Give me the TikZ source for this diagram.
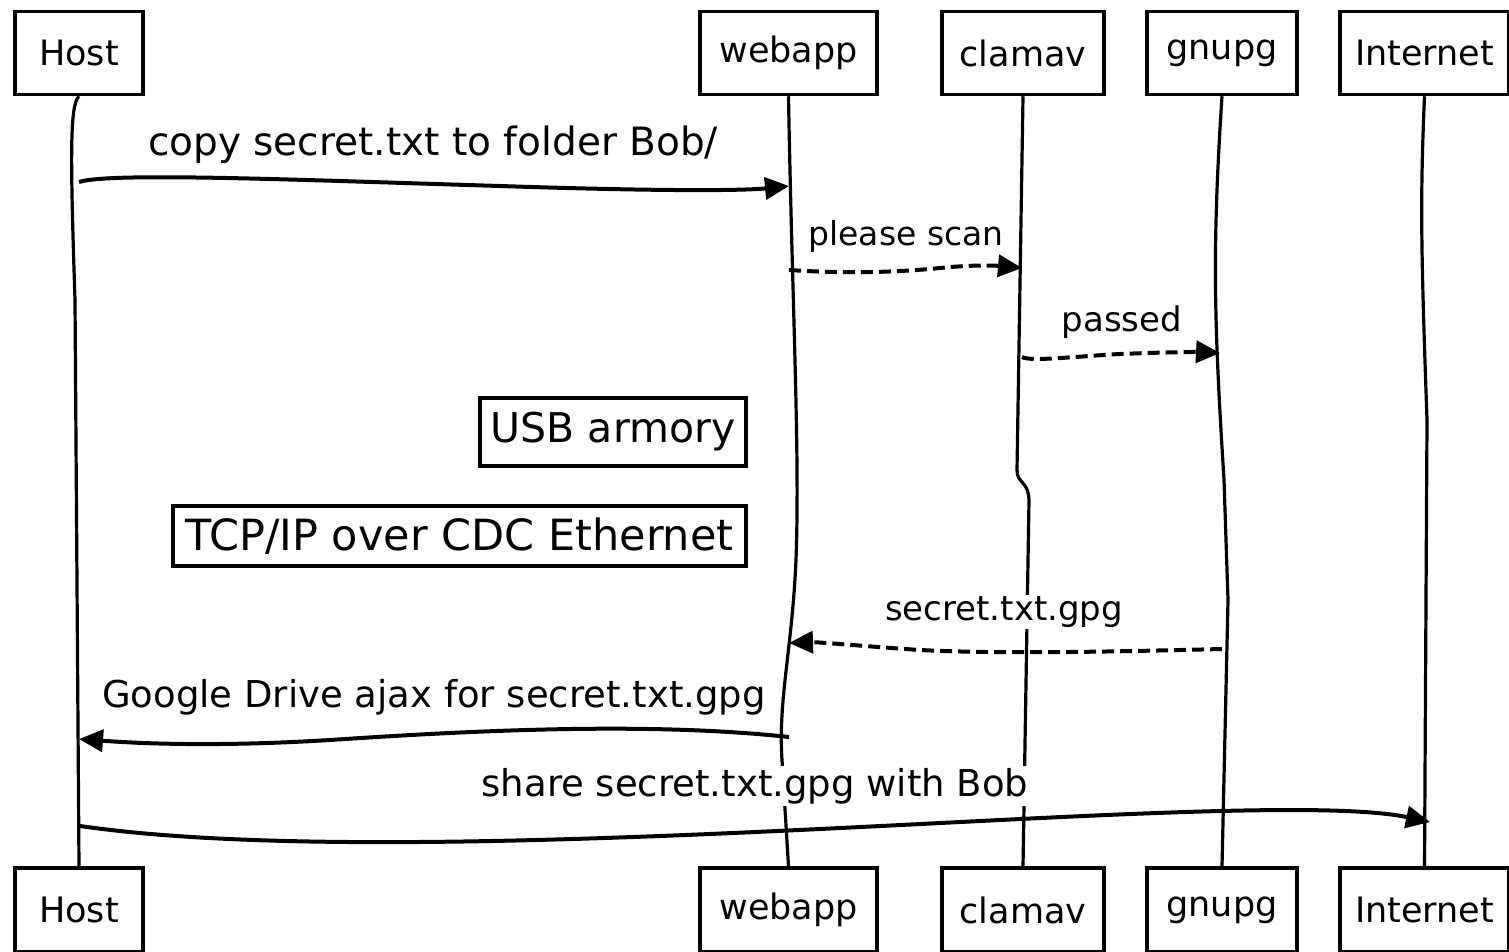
\documentclass[tikz,border=0pt]{standalone}
\usepackage{fontspec}
\setmainfont{DejaVu Sans}
\usetikzlibrary{arrows.meta}
\newcommand{\fsz}[1]{\fontsize{#1}{#1}\selectfont}
\begin{document}
\begin{tikzpicture}[x=1pt,y=-1pt,
 actor/.style={draw,line width=3.5pt,minimum height=83pt,inner sep=0pt,font=\fsz{35}},
 life/.style={line width=3.2pt},
 msg/.style={line width=4pt,-{Triangle[length=24pt,width=22pt]}},
 reply/.style={msg,dash pattern=on 12pt off 6pt},
 lbl/.style={fill=white,inner sep=2pt,font=\fsz{38}},
 note/.style={draw,line width=3.5pt,fill=white,inner sep=0pt,font=\fsz{41}}]
\useasboundingbox (0,0) rectangle (1509,952);
% actors top
\node[actor,minimum width=128pt] (hostT) at (79,53) {Host};
\node[actor,minimum width=177pt] (webT) at (788.5,53) {webapp};
\node[actor,minimum width=162pt] (clamT) at (1023,53) {clamav};
\node[actor,minimum width=150pt] (gnuT) at (1222,53) {gnupg};
\node[actor,minimum width=169pt] (netT) at (1424.5,53) {Internet};
% actors bottom
\node[actor,minimum width=128pt,minimum height=84pt] (hostB) at (79,910) {Host};
\node[actor,minimum width=177pt,minimum height=84pt] (webB) at (788.5,910) {webapp};
\node[actor,minimum width=162pt,minimum height=84pt] (clamB) at (1023,910) {clamav};
\node[actor,minimum width=150pt,minimum height=84pt] (gnuB) at (1222,910) {gnupg};
\node[actor,minimum width=169pt,minimum height=84pt] (netB) at (1424.5,910) {Internet};
% lifelines
\draw[life] (hostT.south) .. controls (70,105) and (70,150) .. (75,300) -- (hostB.north);
\draw[life] (webT.south) .. controls (792,300) and (800,450) .. (796,560) .. controls (792,650) and (778,700) .. (782,760) -- (webB.north);
\draw[life] (clamT.south) -- (1017,470) .. controls (1017,484) and (1028,480) .. (1029,500) -- (clamB.north);
\draw[life] (gnuT.south) .. controls (1212,250) and (1214,320) .. (1224,480) -- (1228,600) -- (gnuB.north);
\draw[life] (netT.south) .. controls (1420,200) and (1421,250) .. (1427,420) -- (netB.north);
% message endpoints
\coordinate (h1) at (79,182); \coordinate (w1) at (789,186);
\coordinate (w2) at (789,270); \coordinate (c2) at (1022,268);
\coordinate (c3) at (1022,357); \coordinate (g3) at (1220,353);
\coordinate (g4) at (1222,649); \coordinate (w4) at (789,643);
\coordinate (w5) at (789,737); \coordinate (h5) at (79,739);
\coordinate (h6) at (80,826); \coordinate (n6) at (1430,822);
% labels
\node[lbl,font=\fsz{39}] (l1) at (433,145) {copy secret.txt to folder Bob/};
\node[lbl,font=\fsz{33}] (l2) at (906,236) {please scan};
\node[lbl,font=\fsz{34}] (l3) at (1122,322) {passed};
\node[lbl,font=\fsz{34}] (l4) at (1004,612) {secret.txt.gpg};
\node[lbl,font=\fsz{37}] (l5) at (434,697) {Google Drive ajax for secret.txt.gpg};
\node[lbl,font=\fsz{37}] (l6) at (755,786) {share secret.txt.gpg with Bob};
% notes
\node[note,minimum width=266pt,minimum height=68pt] (usb) at (613,432) {USB armory};
\node[note,font=\fsz{43},minimum width=573pt,minimum height=60pt] (tcp) at (459.5,536) {TCP/IP over CDC Ethernet};
% messages
\draw[msg] (h1) .. controls (110,172) and (300,180) .. (500,186) .. controls (650,191) and (740,191) .. (w1);
\draw[reply] (w2) .. controls (850,274) and (900,272) .. (940,268) .. controls (980,264) and (1000,266) .. (c2);
\draw[reply] (c3) .. controls (1030,362) and (1080,356) .. (1120,354) .. controls (1170,352) and (1200,352) .. (g3);
\draw[reply] (g4) .. controls (1100,652) and (1000,654) .. (920,650) .. controls (860,646) and (820,642) .. (w4);
\draw[msg] (w5) .. controls (650,722) and (480,730) .. (330,740) .. controls (200,748) and (120,742) .. (h5);
\draw[msg] (h6) .. controls (300,858) and (700,835) .. (1000,820) .. controls (1200,810) and (1350,805) .. (n6);
\end{tikzpicture}
\end{document}
